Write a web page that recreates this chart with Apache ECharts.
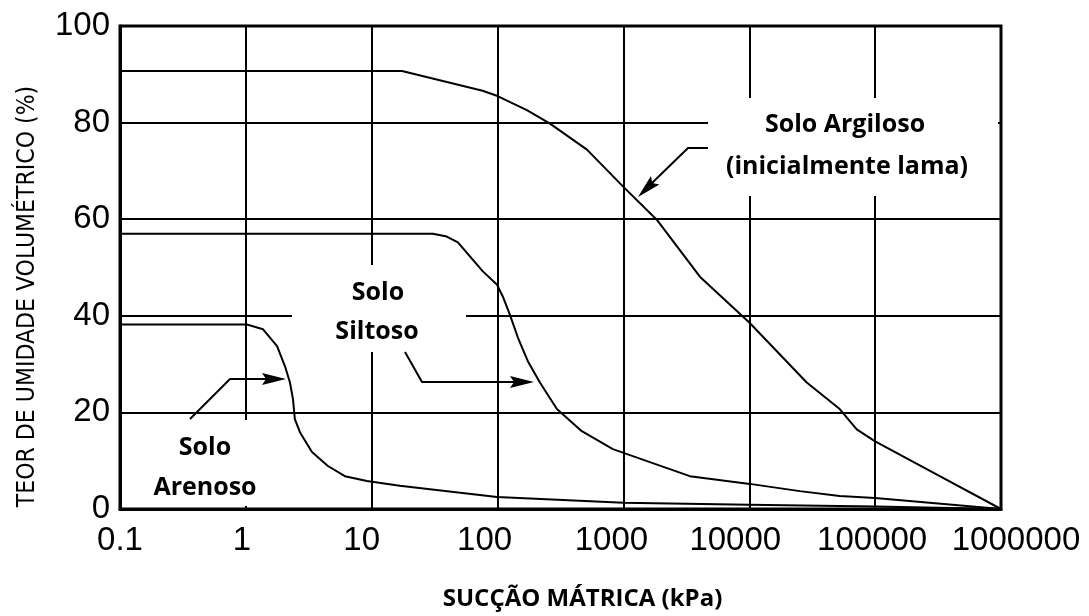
<!DOCTYPE html>
<html>
<head>
<meta charset="utf-8">
<script src="https://cdn.jsdelivr.net/npm/echarts@6.0.0/dist/echarts.min.js"></script>
<style>
html,body{margin:0;padding:0;background:#fff;}
#chart{width:1089px;height:616px;}
</style>
</head>
<body>
<div id="chart"></div>
<script>
// ---- data ----
const xTickLabels = ['0.1', '1', '10', '100', '1000', '10000', '100000', '1000000'];
const yTickValues = [0, 20, 40, 60, 80, 100];

const sandX = [0.1, 1.02, 1.37, 1.77, 2.05, 2.24, 2.37, 2.45, 2.69, 3.35, 4.49, 6.12, 9.17, 16.7, 99, 1000, 10000, 100000, 1000000];
const sandY = [38.2, 38.2, 37.2, 33.7, 29.5, 26.2, 22.7, 18.6, 15.9, 11.8, 8.9, 6.8, 5.8, 4.8, 2.5, 1.3, 0.9, 0.5, 0];

const siltX = [0.1, 30.6, 39.5, 48.4, 60.3, 76.4, 98.7, 110, 125, 145, 174, 217, 296, 467, 825, 1622, 3370, 10090, 25200, 52300, 100000, 1000000];
const siltY = [57, 57, 56.4, 55.2, 52.3, 49.2, 46.5, 44.0, 40.3, 35.5, 30.6, 26.2, 20.7, 16.1, 12.4, 9.7, 6.8, 5.2, 3.7, 2.7, 2.3, 0];

const clayX = [0.1, 17.4, 76, 100, 171, 261, 513, 1000, 1840, 4050, 10000, 28600, 52300, 71400, 100000, 287000, 1000000];
const clayY = [90.7, 90.7, 86.6, 85.5, 82.6, 79.8, 74.4, 66.7, 59.9, 48.1, 38.6, 26.2, 20.7, 16.5, 14.0, 7.6, 0];

const seriesNames = ['Solo Arenoso', 'Solo Siltoso', 'Solo Argiloso'];

function pairs(xs, ys) { return xs.map((x, i) => [x, ys[i]]); }

const chart = echarts.init(document.getElementById('chart'), null, {renderer: 'canvas'});

const labelFont = "'Open Sans', sans-serif";
const tickFont = "'Liberation Sans', Arial, sans-serif";
function txt(x, y, s) {
  return {type: 'text', x: x, y: y, z: 10,
    style: {text: s, font: "bold 25px " + labelFont, fill: '#000', align: 'center', verticalAlign: 'middle'}};
}
function whiteBox(x, y, w, h) {
  return {type: 'rect', z: 1, shape: {x: x, y: y, width: w, height: h}, style: {fill: '#fff'}};
}
function arrowLine(pts) {
  return {type: 'polyline', z: 10, shape: {points: pts}, style: {stroke: '#000', lineWidth: 2, fill: null}};
}
function arrowHead(tip, from, len, half) {
  const dx = tip[0] - from[0], dy = tip[1] - from[1];
  const d = Math.sqrt(dx * dx + dy * dy);
  const ux = dx / d, uy = dy / d;
  const bx = tip[0] - ux * len, by = tip[1] - uy * len;
  return {type: 'polygon', z: 10, shape: {points: [tip, [bx - uy * half, by + ux * half], [bx + ux * 4, by + uy * 4], [bx + uy * half, by - ux * half]]},
    style: {fill: '#000'}};
}

// horizontal nudges of the x tick labels (px), as placed in the reference
const xLabelShift = [0, -4, -10, -13, -12, -14, -3, 15];
const xRich = {};
xLabelShift.forEach((d, i) => {
  xRich['t' + i] = {fontFamily: tickFont, fontSize: 33, color: '#000',
    padding: d < 0 ? [0, -2 * d, 0, 0] : [0, 0, 0, 2 * d]};
});

const lineStyle = {color: '#000', width: 2};

const option = {
  animation: false,
  backgroundColor: '#fff',
  grid: {left: 120, right: 88, top: 26, bottom: 106, show: true, borderColor: '#000', borderWidth: 3},
  xAxis: {
    type: 'log', logBase: 10, min: 0.1, max: 1000000,
    name: 'SUCÇÃO MÁTRICA (kPa)',
    nameLocation: 'middle', nameGap: 78,
    nameTextStyle: {fontFamily: labelFont, fontWeight: 'bold', fontSize: 24, color: '#000', padding: [0, 0, 0, 44]},
    axisLine: {show: true, lineStyle: {color: '#000', width: 3}},
    axisTick: {show: false},
    splitLine: {show: true, lineStyle: {color: '#000', width: 2}},
    minorTick: {show: false}, minorSplitLine: {show: false},
    axisLabel: {
      margin: 15, color: '#000', fontFamily: tickFont, fontSize: 33, hideOverlap: false,
      formatter: function (v, i) { return xTickLabels[i] !== undefined ? '{t' + i + '|' + xTickLabels[i] + '}' : ''; },
      rich: xRich
    }
  },
  yAxis: {
    type: 'value', min: 0, max: 100, interval: 20,
    name: 'TEOR DE UMIDADE VOLUMÉTRICO (%)',
    nameLocation: 'middle', nameGap: 80, nameRotate: 90,
    nameTextStyle: {fontFamily: "'DejaVu Sans Condensed', 'Liberation Sans', Arial, sans-serif", fontSize: 24.5, color: '#000', padding: [0, 58, 0, 0]},
    axisLine: {show: true, lineStyle: {color: '#000', width: 3}},
    axisTick: {show: false},
    splitLine: {show: true, lineStyle: {color: '#000', width: 2}},
    axisLabel: {
      margin: 10, color: '#000', fontFamily: tickFont, fontSize: 33,
      formatter: function (v) { return yTickValues.indexOf(v) >= 0 ? String(v) : ''; }
    }
  },
  series: [
    {name: seriesNames[0], type: 'line', data: pairs(sandX, sandY), showSymbol: false, smooth: false, lineStyle: lineStyle, z: 5},
    {name: seriesNames[1], type: 'line', data: pairs(siltX, siltY), showSymbol: false, smooth: false, lineStyle: lineStyle, z: 5},
    {name: seriesNames[2], type: 'line', data: pairs(clayX, clayY), showSymbol: false, smooth: false, lineStyle: lineStyle, z: 5}
  ],
  graphic: [
    whiteBox(708, 98, 290, 98),
    whiteBox(292, 265, 174, 87),
    whiteBox(150, 420, 115, 86),
    txt(845, 125, 'Solo Argiloso'),
    txt(847, 167, '(inicialmente lama)'),
    txt(378, 293, 'Solo'),
    txt(377, 332, 'Siltoso'),
    txt(205, 448, 'Solo'),
    txt(205, 488, 'Arenoso'),
    arrowLine([[190, 419], [230, 379], [268, 379]]),
    arrowHead([286, 379], [230, 379], 24, 6),
    arrowLine([[405, 352], [422, 382], [516, 382]]),
    arrowHead([534, 382], [422, 382], 24, 6),
    arrowLine([[708, 148], [688, 148], [652, 183]]),
    arrowHead([638, 197], [688, 148], 24, 6)
  ]
};
chart.setOption(option);
</script>
</body>
</html>
